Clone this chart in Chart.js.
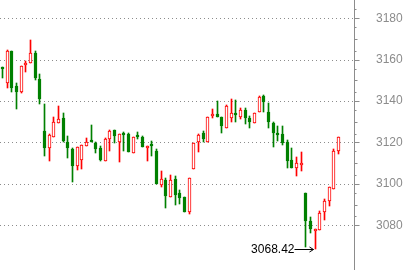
<!DOCTYPE html>
<html>
<head>
<meta charset="utf-8">
<script src="https://cdn.jsdelivr.net/npm/chart.js@4.4.0/dist/chart.umd.min.js"></script>
<style>
  html, body { margin: 0; padding: 0; background: #fff; }
  canvas { display: block; }
</style>
</head>
<body>
<canvas id="kline" width="405" height="270"></canvas>
<script>
// Candle data (one entry per bar)
const opens = [
  3156.1, 3148.9, 3164.3, 3147.3, 3144.3, 3157.6, 3158.3, 3163.1, 3150.5, 3125.6,
  3117.2, 3122.8, 3129.3, 3131.8, 3120.0, 3116.7, 3108.8, 3111.4, 3118.3, 3120.4,
  3119.9, 3117.2, 3110.9, 3121.8, 3126.0, 3120.4, 3124.7, 3124.3, 3114.8, 3123.1,
  3122.5, 3117.5, 3118.9, 3115.9, 3099.6, 3101.9, 3093.8, 3102.4, 3095.6, 3093.7,
  3086.6, 3107.1, 3120.0, 3124.4, 3120.4, 3133.0, 3133.8, 3132.2, 3127.2, 3132.0,
  3133.8, 3132.5, 3135.7, 3131.8, 3129.3, 3134.6, 3142.5, 3134.6, 3129.3, 3124.0,
  3124.0, 3120.4, 3111.5, 3107.8, 3109.3, 3095.5, 3082.1, 3077.4, 3077.7, 3086.3,
  3091.9, 3097.4, 3115.9
];
const highs = [
  3156.6, 3164.8, 3164.3, 3148.6, 3157.0, 3159.4, 3169.5, 3164.3, 3152.9, 3138.6,
  3124.1, 3132.5, 3137.6, 3134.1, 3123.1, 3117.2, 3117.7, 3118.6, 3122.0, 3128.4,
  3120.4, 3118.3, 3122.0, 3126.2, 3126.0, 3124.0, 3125.2, 3124.8, 3122.5, 3125.1,
  3123.1, 3118.2, 3120.7, 3116.7, 3106.2, 3102.7, 3104.3, 3104.0, 3096.9, 3093.7,
  3102.7, 3119.6, 3124.3, 3125.6, 3132.2, 3136.2, 3140.2, 3132.2, 3138.1, 3141.0,
  3140.5, 3136.5, 3136.8, 3132.9, 3134.1, 3142.5, 3143.0, 3138.9, 3130.0, 3128.1,
  3128.1, 3121.2, 3117.5, 3113.1, 3115.6, 3095.5, 3084.2, 3078.1, 3086.9, 3092.7,
  3098.4, 3116.9, 3122.5
];
const lows = [
  3151.0, 3146.5, 3144.3, 3136.2, 3144.0, 3154.2, 3158.3, 3150.2, 3138.6, 3113.6,
  3111.1, 3122.8, 3129.3, 3120.4, 3112.7, 3101.1, 3106.6, 3107.1, 3118.3, 3120.0,
  3115.1, 3111.2, 3110.9, 3116.0, 3119.6, 3110.7, 3116.0, 3115.6, 3114.8, 3121.8,
  3117.7, 3111.2, 3113.6, 3100.0, 3098.6, 3088.5, 3093.8, 3089.8, 3090.1, 3086.6,
  3085.3, 3107.1, 3115.6, 3120.0, 3120.4, 3131.7, 3132.5, 3124.7, 3127.2, 3129.8,
  3130.0, 3131.2, 3128.8, 3127.2, 3129.3, 3134.6, 3134.6, 3127.2, 3118.0, 3120.7,
  3118.8, 3107.8, 3107.5, 3104.0, 3106.2, 3069.7, 3076.1, 3068.42, 3077.7, 3082.6,
  3089.5, 3097.4, 3114.3
];
const closes = [
  3155.4, 3164.3, 3146.5, 3144.5, 3157.0, 3157.9, 3163.1, 3151.0, 3140.9, 3117.5,
  3123.6, 3129.8, 3131.2, 3120.7, 3117.2, 3108.8, 3117.7, 3118.6, 3120.0, 3120.0,
  3116.7, 3111.5, 3121.5, 3125.4, 3123.3, 3124.0, 3123.8, 3115.6, 3122.5, 3122.7,
  3118.0, 3118.2, 3118.4, 3100.0, 3102.2, 3094.3, 3101.9, 3094.6, 3093.3, 3086.6,
  3102.7, 3119.6, 3123.5, 3121.5, 3132.2, 3133.8, 3132.5, 3128.0, 3137.5, 3134.1,
  3133.4, 3135.7, 3132.0, 3130.0, 3134.1, 3142.0, 3139.7, 3130.0, 3124.4, 3123.6,
  3119.6, 3111.1, 3107.8, 3110.0, 3110.1, 3082.1, 3078.1, 3078.1, 3085.8, 3091.7,
  3098.4, 3115.9, 3122.5
];
const slotCount = 76; // a few empty slots on the right
const labels = Array.from({length: slotCount}, (_, i) => String(i + 1));
const yTicks = [3080, 3100, 3120, 3140, 3160, 3180];

const RED = '#ff0000';
const GREEN = '#008000';
const GRID = '#8c8c8c';

const isUp = opens.map((o, i) => closes[i] >= o);
const lineColors = isUp.map(u => u ? RED : GREEN);
const fillColors = isUp.map(u => u ? '#ffffff' : GREEN);

// snap bars to whole pixels so the candles stay crisp
const pixelSnap = {
  id: 'pixelSnap',
  afterDatasetsUpdate(chart) {
    chart.data.datasets.forEach((ds, i) => {
      chart.getDatasetMeta(i).data.forEach(el => {
        el.x = Math.floor(el.x) + 0.5;
        el.y = Math.round(el.y);
        el.base = Math.round(el.base);
      });
    });
  }
};

// dotted grid, right axis line with its tick marks, and the low marker
const axisDecor = {
  id: 'axisDecor',
  beforeDatasetsDraw(chart) {
    const {ctx, chartArea, scales: {y}} = chart;
    ctx.save();
    ctx.strokeStyle = GRID;
    ctx.lineWidth = 1;
    ctx.setLineDash([1, 3]);
    yTicks.forEach(v => {
      const py = Math.round(y.getPixelForValue(v)) + 0.5;
      ctx.beginPath();
      ctx.moveTo(chartArea.left, py);
      ctx.lineTo(chartArea.right - 2, py);
      ctx.stroke();
    });
    ctx.restore();
  },
  afterDraw(chart) {
    const {ctx, chartArea, scales: {x, y}} = chart;
    const ax = chartArea.right - 0.5;
    ctx.save();
    ctx.strokeStyle = GRID;
    ctx.lineWidth = 1;
    ctx.beginPath();
    ctx.moveTo(ax, chartArea.top);
    ctx.lineTo(ax, chartArea.bottom);
    ctx.stroke();

    const tick = (v, len) => {
      const py = Math.round(y.getPixelForValue(v)) + 0.5;
      if (py < chartArea.top || py > chartArea.bottom) return;
      ctx.beginPath();
      ctx.moveTo(ax, py);
      ctx.lineTo(ax + len, py);
      ctx.stroke();
    };
    yTicks.forEach((v, i) => {
      tick(v, 5);
      tick(v + 4.3, 2);
      if (i > 0) tick(v - 4.3, 2);
      if (i < yTicks.length - 1) tick(v + 10, 3);
    });

    // lowest low with its arrow
    const lowVal = Math.min(...lows);
    const idx = lows.indexOf(lowVal);
    const px = Math.floor(x.getPixelForValue(idx)) - 1.5;
    const py = Math.round(y.getPixelForValue(lowVal)) + 0.5;
    const start = px - 19;
    ctx.strokeStyle = '#000';
    ctx.beginPath();
    ctx.moveTo(start, py);
    ctx.lineTo(px, py);
    ctx.moveTo(px - 4, py - 2.5);
    ctx.lineTo(px, py);
    ctx.lineTo(px - 4, py + 2.5);
    ctx.stroke();
    ctx.fillStyle = '#000';
    ctx.font = '12px "Liberation Sans", Arial, sans-serif';
    ctx.textAlign = 'right';
    ctx.textBaseline = 'middle';
    ctx.fillText(lowVal.toFixed(2), start, py);
    ctx.restore();
  }
};

new Chart(document.getElementById('kline').getContext('2d'), {
  type: 'bar',
  data: {
    labels: labels,
    datasets: [
      {
        label: 'wick',
        data: lows.map((l, i) => [l, highs[i]]),
        backgroundColor: lineColors,
        borderWidth: 0,
        barThickness: 1,
        grouped: false,
        order: 2
      },
      {
        label: 'body',
        data: opens.map((o, i) => [o, closes[i]]),
        backgroundColor: fillColors,
        borderColor: lineColors,
        borderWidth: 1,
        borderSkipped: false,
        barThickness: 3,
        minBarLength: 2,
        grouped: false,
        order: 1
      }
    ]
  },
  options: {
    responsive: false,
    animation: false,
    layout: { padding: 0 },
    plugins: {
      legend: { display: false },
      tooltip: { enabled: false }
    },
    scales: {
      x: {
        display: false
      },
      y: {
        position: 'right',
        min: 3058.4,
        max: 3188.8,
        afterBuildTicks: s => { s.ticks = yTicks.map(v => ({ value: v })); },
        afterFit: s => {
          s.width = 50;
          s.paddingTop = 0;
          s.paddingBottom = 0;
        },
        grid: { display: false, drawTicks: false },
        border: { display: false },
        ticks: {
          padding: 21,
          color: '#8c8c8c',
          font: { family: '"Liberation Sans", Arial, sans-serif', size: 12 },
          callback: v => String(v)
        }
      }
    }
  },
  plugins: [pixelSnap, axisDecor]
});
</script>
</body>
</html>
